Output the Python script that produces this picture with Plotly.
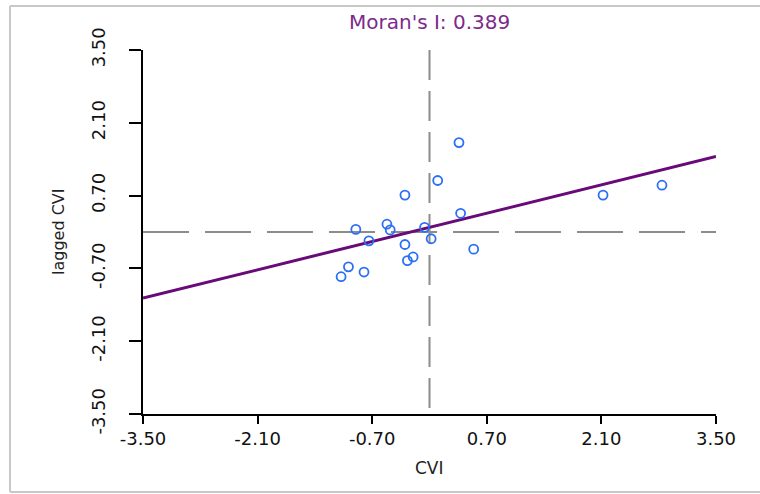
import numpy as np
import plotly.graph_objects as go

# ---- data ----
cvi = [0.36, 0.10, -0.30, 0.38, 2.12, 2.84, -0.90, -0.52, -0.48, -0.06,
       0.02, -0.74, -0.30, 0.54, -0.20, -0.27, -0.99, -0.80, -1.08]
lagged_cvi = [1.72, 0.99, 0.71, 0.36, 0.71, 0.90, 0.05, 0.15, 0.04, 0.09,
              -0.13, -0.17, -0.24, -0.33, -0.48, -0.55, -0.67, -0.77, -0.86]
moran_i = 0.389
intercept = 0.09
mean_x = 0.0
mean_y = 0.0
tick_vals = [-3.5, -2.1, -0.7, 0.7, 2.1, 3.5]
tick_text = ["-3.50", "-2.10", "-0.70", "0.70", "2.10", "3.50"]
axis_range = [-3.5, 3.5]

W, H = 760, 494
ML, MR, MT, MB = 143, 44, 50, 80
pw, ph = W - ML - MR, H - MT - MB

def px2paper_x(px):
    return (px - ML) / pw

def px2paper_y(py):
    return (H - MB - py) / ph

fig = go.Figure()

# regression line
xl = np.array(axis_range)
yl = intercept + moran_i * xl
fig.add_trace(go.Scatter(x=xl, y=yl, mode="lines",
                         line=dict(color="#680a78", width=3),
                         hoverinfo="skip", showlegend=False))

# points
fig.add_trace(go.Scatter(x=cvi, y=lagged_cvi, mode="markers",
                         marker=dict(symbol="circle-open", size=9,
                                     color="#2a6ff5", line=dict(width=1.8, color="#2a6ff5")),
                         showlegend=False, cliponaxis=False))

# mean lines
fig.add_shape(type="line", xref="x", yref="y", x0=axis_range[0], x1=axis_range[1],
              y0=mean_y, y1=mean_y, line=dict(color="#8c8c8c", width=2, dash="46px,16px"),
              layer="below")
fig.add_shape(type="line", xref="x", yref="y", x0=mean_x, x1=mean_x,
              y0=axis_range[1], y1=axis_range[0], line=dict(color="#8c8c8c", width=2, dash="30px,11px"),
              layer="below")

# outer frame (left, top, bottom)
frame_col = "#c8c8c8"
fig.add_shape(type="line", xref="paper", yref="paper",
              x0=px2paper_x(10), x1=px2paper_x(10), y0=px2paper_y(6), y1=px2paper_y(492),
              line=dict(color=frame_col, width=2))
fig.add_shape(type="line", xref="paper", yref="paper",
              x0=px2paper_x(10), x1=px2paper_x(W), y0=px2paper_y(6), y1=px2paper_y(6),
              line=dict(color=frame_col, width=2))
fig.add_shape(type="line", xref="paper", yref="paper",
              x0=px2paper_x(10), x1=px2paper_x(W), y0=px2paper_y(492), y1=px2paper_y(492),
              line=dict(color=frame_col, width=2))

font_family = "DejaVu Sans, Arial, sans-serif"

fig.add_annotation(text="Moran's I: 0.389", x=0, xref="x", y=1, yref="paper",
                   yshift=28, yanchor="middle", xanchor="center", showarrow=False,
                   font=dict(size=20, color="#7d2a8c", family=font_family))
fig.add_annotation(text="CVI", x=0, xref="x", y=0, yref="paper",
                   yshift=-53.5, yanchor="middle", xanchor="center", showarrow=False,
                   font=dict(size=17, color="#222222", family=font_family))
fig.add_annotation(text="lagged CVI", x=0, xref="paper", xshift=-85, y=0, yref="y",
                   textangle=-90, yanchor="middle", xanchor="center", showarrow=False,
                   font=dict(size=16, color="#222222", family=font_family))

axis_common = dict(range=axis_range, showgrid=False, zeroline=False, showline=True,
                   linecolor="black", linewidth=2, ticks="outside", tickcolor="black",
                   tickwidth=2, tickvals=tick_vals, ticktext=tick_text,
                   tickfont=dict(size=18, color="#111111", family=font_family))

fig.update_layout(
    width=W, height=H,
    margin=dict(l=ML, r=MR, t=MT, b=MB),
    paper_bgcolor="white", plot_bgcolor="white",
    xaxis=dict(**axis_common, ticklen=8, ticklabelstandoff=-1),
    yaxis=dict(**axis_common, ticklen=12, tickangle=-90, ticklabelstandoff=17),
    showlegend=False,
)

fig.write_html("out.html", config={"displayModeBar": False},
               post_script="document.body.style.margin='0';")
